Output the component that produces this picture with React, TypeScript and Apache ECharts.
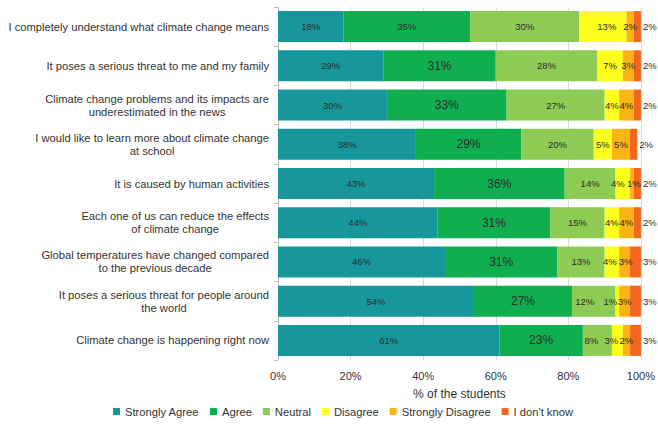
import React, { useEffect, useRef } from "react";
import * as echarts from "echarts";

const categories = [
  "I completely understand what climate change means",
  "It poses a serious threat to me and my family",
  "Climate change problems and its impacts are\nunderestimated in the news",
  "I would like to learn more about climate change\nat school",
  "It is caused by human activities",
  "Each one of us can reduce the effects\nof climate change",
  "Global temperatures have changed compared\nto the previous decade",
  "It poses a serious threat for people around\nthe world",
  "Climate change is happening right now",
];

const seriesNames = ["Strongly Agree", "Agree", "Neutral", "Disagree", "Strongly Disagree", "I don't know"];

const stronglyAgree = [18, 29, 30, 38, 43, 44, 46, 54, 61];
const agree = [35, 31, 33, 29, 36, 31, 31, 27, 23];
const neutral = [30, 28, 27, 20, 14, 15, 13, 12, 8];
const disagree = [13, 7, 4, 5, 4, 4, 4, 1, 3];
const stronglyDisagree = [2, 3, 4, 5, 1, 4, 3, 3, 2];
const dontKnow = [2, 2, 2, 2, 2, 2, 3, 3, 3];

const xTicks = [0, 20, 40, 60, 80, 100];

const colors = ["#17979C", "#0FAF50", "#8ECB54", "#FFFF1E", "#FBB416", "#F4661C"];

const FONT = "'Liberation Sans', Arial, sans-serif";

// label nudges (style only) keyed "series-row"
const labelOffsets: Record<string, number[]> = {
  "3-0": [4, 0],
  "3-4": [-5, 0],
  "4-4": [2, 0],
  "3-6": [-2, 0],
  "4-6": [1, 0],
  "2-7": [-9, 0],
  "3-7": [-7, 0],
  "2-8": [-6, 0],
  "3-8": [-6, 0],
};

export default function App() {
  const ref = useRef<HTMLDivElement>(null);
  useEffect(() => {
    if (!ref.current) return;
    document.body.style.margin = "0";
    const chart = echarts.init(ref.current, undefined, { renderer: "svg" });
    const all = [stronglyAgree, agree, neutral, disagree, stronglyDisagree, dontKnow];
    const series = all.map((vals, si) => ({
      name: seriesNames[si],
      type: "bar",
      stack: "total",
      barCategoryGap: "21%",
      itemStyle: { color: colors[si] },
      data: vals.map((v, i) => {
        const lbl: any = {};
        if (si === 1 && i > 0) lbl.fontSize = 12;
        const off = labelOffsets[`${si}-${i}`];
        if (off) lbl.offset = off;
        return { value: v, label: Object.keys(lbl).length ? lbl : undefined };
      }),
      label: {
        show: true,
        position: si === 5 ? "right" : "inside",
        distance: 2,
        formatter: "{c}%",
        fontSize: 9.5,
        fontFamily: FONT,
        color: "#2b2b2b",
      },
    }));
    chart.setOption({
      animation: false,
      textStyle: { fontFamily: FONT },
      grid: { left: 278, right: 15, top: 7, bottom: 65, containLabel: false },
      legend: {
        data: seriesNames,
        left: 113,
        top: 406,
        padding: 0,
        icon: "rect",
        itemWidth: 7,
        itemHeight: 7,
        itemGap: 11,
        textStyle: { fontSize: 11.2, color: "#333", fontFamily: FONT },
      },
      xAxis: {
        type: "value",
        min: xTicks[0],
        max: xTicks[xTicks.length - 1],
        interval: 20,
        name: "% of the students",
        nameLocation: "middle",
        nameGap: 28,
        nameTextStyle: { fontSize: 12, color: "#333", fontFamily: FONT },
        axisLabel: { formatter: "{value}%", fontSize: 11, color: "#333", margin: 10, fontFamily: FONT },
        axisLine: { show: false },
        axisTick: { show: false },
        splitLine: { show: true, lineStyle: { color: "#D9D9D9", width: 1 } },
      },
      yAxis: {
        type: "category",
        inverse: true,
        data: categories,
        axisLine: { show: true, lineStyle: { color: "#BFBFBF" } },
        axisTick: { show: true, length: 4, lineStyle: { color: "#BFBFBF" } },
        axisLabel: {
          fontSize: 11.2,
          color: "#333",
          margin: 9,
          lineHeight: 13,
          fontFamily: FONT,
          formatter: (val: string) =>
            val
              .split("\n")
              .map((l) => `{c|${l}}`)
              .join("\n"),
          rich: { c: { align: "center", fontSize: 11.2, lineHeight: 13, color: "#333", fontFamily: FONT } },
        },
      },
      series,
    });
    return () => chart.dispose();
  }, []);
  return <div ref={ref} style={{ width: 658, height: 425 }} />;
}
